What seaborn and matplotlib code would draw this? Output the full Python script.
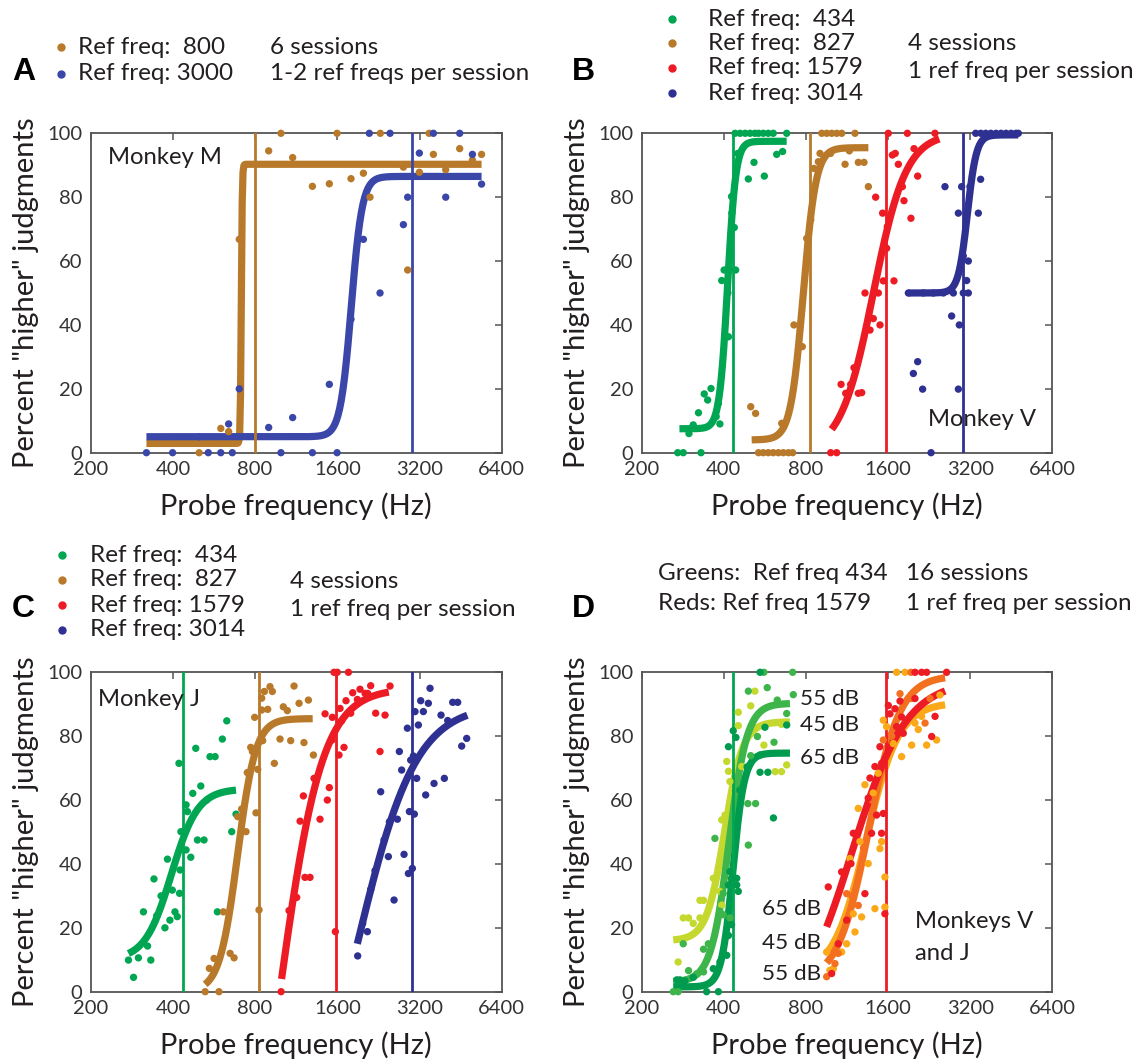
import numpy as np
import pandas as pd
import matplotlib
matplotlib.use("Agg")
import matplotlib.pyplot as plt
from matplotlib.lines import Line2D
from matplotlib.ticker import FixedLocator, FixedFormatter, NullLocator
import seaborn as sns

W, H = 1136, 1061

# ---------------- colours ----------------
GREEN = "#00A651"
BROWN = "#B87A2A"
RED = "#ED1C24"
NAVY = "#2E3192"
BLUE_A = "#3A47A8"
LGREEN = "#C4D82E"
MGREEN = "#3DB54A"
DGREEN = "#009B4E"
YORANGE = "#FBA919"
DORANGE = "#F37021"
TXT = "#231F20"
SPINE = "#555555"

# ---------------- axis ticks ----------------
xticks = [200, 400, 800, 1600, 3200, 6400]
xtick_labels = ["200", "400", "800", "1600", "3200", "6400"]
yticks = [0, 20, 40, 60, 80, 100]

# ---------------- Panel A (Monkey M) ----------------
A_800_f = [995, 1597, 2300, 3470, 897, 1098, 1297, 1496, 1796, 1994, 2108, 2794, 2896,
           3196, 3598, 3992, 4491, 5000, 5400, 700, 599, 640, 499]
A_800_y = [100, 100, 100, 100, 94.5, 92.4, 83.4, 84.2, 85.8, 87.5, 80, 89.4, 57.2,
           87.8, 93.4, 88.6, 95.2, 91.6, 93.4, 66.8, 7.6, 6.6, 0]
A_3000_f = [320, 399, 539, 599, 660, 995, 1297, 1597, 640, 499, 700, 897, 1098, 1496,
            1796, 1994, 2294, 2794, 2896, 2096, 2496, 3598, 4491, 3196, 3992, 5000, 5400]
A_3000_y = [0, 0, 0, 0, 0, 0, 0, 0, 9, 5, 20, 7.9, 11, 21.4,
            41.8, 66.8, 50, 71.4, 80, 100, 100, 100, 100, 93.8, 80, 93.4, 84.1]

# ---------------- Panel B (Monkey V) ----------------
B_434_f = [271, 284, 330, 298, 309, 323, 339, 349, 359, 375, 387, 382, 416, 393, 401, 414,
           442, 414, 428, 437, 427, 450, 492, 516, 563, 625, 657, 440, 459, 479, 499, 520,
           536, 558, 582, 607, 680]
B_434_y = [0, 0, 0, 6, 8.7, 12.5, 18.4, 16.5, 20.1, 11.3, 9, 15.4, 36.3, 53.9, 57.2, 57.2,
           57.2, 50.1, 75, 70.5, 80.2, 93.7, 85.7, 90.9, 86.6, 93.4, 94.3, 100, 100, 100, 100, 100,
           100, 100, 100, 100, 100]
B_827_f = [536, 558, 582, 607, 634, 661, 690, 715, 502, 523, 652, 723, 776, 805, 833, 847,
           856, 888, 901, 985, 1113, 1154, 1245, 1306, 1355, 914, 953, 994, 1037, 1082, 1210]
B_827_y = [0, 0, 0, 0, 0, 0, 0, 0, 14.4, 12.3, 9.2, 40, 33.2, 67.1, 72.9, 80.2,
           89, 91.1, 93.7, 93.7, 90.3, 94.5, 90.9, 90.9, 83.3, 100, 100, 100, 100, 100, 100]
B_1579_f = [986, 1037, 1076, 1119, 1167, 1245, 1281, 1200, 1317, 1374, 1413, 1495, 1474, 1537,
            1682, 1581, 1528, 1590, 1830, 1941, 1805, 1441, 1745, 1659, 1700, 2054, 1992,
            1603, 1883, 2377]
B_1579_y = [0, 0, 21.4, 18.6, 21.4, 18.6, 18.8, 26.6, 50, 38.4, 42, 40, 50, 53.8,
            53.8, 64, 75, 70.8, 78.9, 73.4, 83.3, 80, 90.3, 93.2, 93.7, 86.6, 95.2,
            100, 100, 100]
B_3014_f = [2300, 1981, 2054, 2142, 2896, 2736, 2920, 3106, 3019, 3150, 2896, 3428, 3194, 2978,
            2587, 3495, 1899, 2155, 2345, 2551, 2776, 3019, 3150,
            3352, 3500, 3650, 3810, 3980, 4150, 4330, 4520, 4710, 4805]
B_3014_y = [0, 24.8, 28.5, 19.9, 19.9, 42.8, 40, 53.9, 61.6, 60, 75, 75, 83.3, 83.3,
            83.3, 85.6, 50, 50, 50, 50, 50, 50, 50,
            100, 100, 100, 100, 100, 100, 100, 100, 100, 100]

# ---------------- Panel C (Monkey J) ----------------
C_434_f = [275, 287, 299, 332, 312, 323, 341, 349, 362, 374, 382, 390, 398, 407, 415, 423,
           421, 425, 428, 447, 452, 447, 465, 473, 485, 492, 520, 506, 532, 547, 571, 607,
           630, 657, 681, 582]
C_434_y = [9.9, 4.5, 10.6, 9.9, 25, 14.3, 35.3, 23.8, 30, 20, 41.5, 22.4, 31.8, 25, 23.5, 30.8,
           71.5, 38.1, 50.1, 58.5, 56.4, 44.4, 42.1, 62.1, 76.2, 47.5, 47.5, 64.4, 60, 73.6, 73.6, 79.1,
           84.8, 50.1, 55.6, 25]
C_827_f = [525, 590, 544, 566, 648, 670, 612, 691, 714, 741, 749, 771, 782, 806, 818, 827,
           797, 846, 853, 846, 865, 890, 907, 925, 941, 987, 1015, 1050, 1080, 1111, 1159,
           1208, 1254, 1308]
C_827_y = [0, 0, 7.3, 10.4, 12, 10.6, 25, 54.8, 57.2, 50.1, 68.6, 76.5, 75.2, 56, 69.6, 25.6,
           85.9, 88.2, 78.6, 91.9, 94, 88.4, 95.5, 94, 71.5, 79.1, 89.2, 88, 78.6, 95.7, 90.3,
           78, 91.3, 74.1]
C_1579_f = [996, 1065, 1136, 1218, 1271, 1169, 1202, 1383, 1315, 1471, 1496, 1443, 1574, 1535,
            1531, 1623, 1637, 1660, 1693, 1722, 1791, 1822, 1895, 1938, 2022, 2068, 2120, 2211,
            2294, 2393, 2496, 1556, 1600, 1757]
C_1579_y = [0, 25.4, 29.5, 35.8, 35.8, 53.4, 61.3, 54, 66.8, 60, 63.9, 87, 18.8, 85.9,
            78.8, 74.1, 88.7, 84.8, 76.5, 91.1, 87.2, 93.6, 91.5, 94.7, 93.4, 93.4, 95.8, 87.2,
            75.2, 86.6, 95.7, 100, 100, 100]
C_3014_f = [1900, 1982, 2062, 2120, 2199, 2307, 2373, 2461, 2482, 2582, 2656, 2700, 2753, 2809,
            2889, 2914, 2938, 2971, 3013, 3039, 3064, 3081, 3125, 3169, 3233, 3306, 3371, 3448,
            3497, 3617, 3837, 3946, 4059, 4234, 4416, 4567, 4764]
C_3014_y = [11.2, 21.4, 18.8, 32, 37.9, 62.6, 47.5, 42.3, 53.2, 28.7, 54, 75.2, 69.4, 43,
            82.5, 37, 56.4, 72.5, 38.6, 73.8, 55.6, 87.7, 66.8, 83.5, 91.1, 87.7, 61.6, 90.3,
            95, 65.2, 86.6, 66.8, 84.9, 90.6, 90.6, 76.9, 79.3]

# ---------------- Panel D (Monkeys V and J) ----------------
D_g45_f = [272, 284, 297, 309, 327, 327, 337, 366, 382, 387, 393, 393, 404, 410, 416, 421,
           452, 452, 465, 502, 520, 561, 617, 651, 651, 680]
D_g45_y = [9.3, 23.1, 23.1, 21.4, 23.1, 28.6, 28.6, 35.5, 38.7, 31.4, 27.1, 53.8, 55.3, 72.1, 69, 65.8,
           87.5, 83.3, 70.5, 89.5, 94.1, 77.2, 68.9, 68.9, 83.7, 71]
D_g55_f = [261, 272, 284, 297, 318, 337, 337, 351, 371, 387, 398, 398, 421, 490, 492, 492,
           502, 523, 531, 561, 577, 611, 628, 680, 715, 719]
D_g55_y = [0, 0, 15, 6.6, 5.6, 6.2, 13.3, 15, 48, 25.2, 24.1, 30.8, 23.1, 58.9, 45.9, 94.1,
           73.9, 58.9, 79.9, 100, 95.2, 78.1, 91.3, 87.1, 100, 93]
D_g65_f = [269, 276, 288, 309, 346, 366, 382, 387, 410, 416, 416, 421, 427, 427, 433, 443,
           446, 446, 452, 458, 487, 543, 543, 543, 566, 580, 608, 680, 416]
D_g65_y = [3.7, 3.7, 3.4, 4.5, 0, 7.2, 0, 9.3, 11.4, 17.6, 33.4, 37.6, 21, 35.5, 81.7, 79.6,
           35.5, 33.4, 31.4, 63.1, 70.4, 74.1, 100, 68.7, 82.8, 68.7, 54.4, 83.5, 76.7]
D_r65_f = [966, 994, 1051, 1081, 1128, 1170, 1193, 1226, 1316, 1353, 1373, 1392, 1432, 1452,
           1494, 1515, 1515, 1537, 1558, 1604, 1626, 1696, 1720, 1770, 1794, 1819, 2008, 2008,
           2124, 2216, 2312, 2379, 2622]
D_r65_y = [32.8, 5.7, 15, 37.5, 22.4, 40.1, 49.6, 49.6, 30.7, 60.6, 66.9, 49.6, 70.5, 55.3,
           76.7, 71.5, 49.6, 55.8, 24.4, 89.6, 87, 88.6, 83, 91, 86, 80.9, 91.8, 100,
           100, 100, 79.9, 86.2, 100]
D_o45_f = [953, 979, 1008, 1081, 1128, 1159, 1193, 1210, 1244, 1262, 1280, 1316, 1353, 1411,
           1432, 1472, 1494, 1515, 1537, 1558, 1558, 1580, 1672, 1720, 1794, 1846, 1952, 2008,
           2065, 2124, 2216, 2411, 2479]
D_o45_y = [12.4, 6.7, 7.2, 12.4, 15, 41.7, 24.4, 18.7, 57.4, 47, 23.4, 64.8, 40.1, 62.2,
           26, 68.4, 44.8, 47, 85, 35.9, 26.5, 83, 77.7, 100, 73.6, 100, 77.2, 84.1,
           82.1, 86.2, 77.2, 78.8, 92.9]
D_o55_f = [953, 1022, 1050, 1128, 1180, 1244, 1300, 1400, 1537, 1650, 1770, 1898, 1941, 1952,
           2186, 2280]
D_o55_y = [4.7, 8.8, 12, 30.7, 30, 27, 45, 60, 78.8, 80, 93.3, 91.8, 100, 91.8,
           84.1, 91.8]

# ---------------- sigmoid fit parameters: lo, hi, midpoint (Hz), width (octaves), fmin, fmax ----------------
A_fits = {"800": (2.9, 90.3, 712, 0.006, 320, 5400), "3000": (5, 86.5, 1800, 0.067, 320, 5400)}
B_fits = {"434": (7.5, 97.5, 413, 0.05, 275, 680), "827": (4, 95.5, 782, 0.077, 506, 1355),
          "1579": (0, 100, 1413, 0.2, 994, 2466), "3014": (50, 99.5, 3125, 0.055, 1899, 4805)}
C_fits = {"434": (10, 63.5, 395, 0.16, 275, 681), "827": (0, 85.5, 690, 0.11, 525, 1300),
          "1579": (-100, 95, 976, 0.263, 1000, 2470), "3014": (-60, 90, 1894, 0.357, 1894, 4790)}
D_fits = {"g45": (16, 84.5, 403, 0.11, 261, 699), "g55": (3, 90.3, 418, 0.11, 261, 699),
          "g65": (1.5, 74.7, 432, 0.07, 261, 699), "o45": (5, 90.5, 1330, 0.2, 953, 2590),
          "o55": (3, 99, 1360, 0.19, 953, 2590), "r65": (-10, 97.5, 1180, 0.33, 953, 2590)}

ref_A = [800, 3000]
ref_B = [434, 827, 1579, 3014]
ref_D = [434, 1579]


def fit_frame(fits):
    rows = []
    for name, (lo, hi, mu, s, f0, f1) in fits.items():
        f = np.geomspace(f0, f1, 400)
        y = lo + (hi - lo) / (1 + np.exp(-np.log2(f / mu) / s))
        rows.append(pd.DataFrame({"f": f, "y": y, "series": name}))
    return pd.concat(rows, ignore_index=True)


def pts_frame(d):
    return pd.concat([pd.DataFrame({"f": f, "y": y, "series": k}) for k, (f, y) in d.items()],
                     ignore_index=True)


sns.set_theme(style="white")
plt.rcParams["font.family"] = ["Lato", "DejaVu Sans"]
plt.rcParams["text.color"] = TXT

fig = plt.figure(figsize=(W / 100, H / 100), dpi=100)


def px(x, y):
    return x / W, 1 - y / H


def make_ax(x0, y0, x1, y1):
    ax = fig.add_axes([x0 / W, 1 - y1 / H, (x1 - x0) / W, (y1 - y0) / H])
    ax.set_xscale("log", base=2)
    ax.set_xlim(200, 6400)
    ax.set_ylim(0, 100)
    ax.xaxis.set_major_locator(FixedLocator(xticks))
    ax.xaxis.set_major_formatter(FixedFormatter(xtick_labels))
    ax.xaxis.set_minor_locator(NullLocator())
    ax.set_yticks(yticks)
    ax.set_yticklabels([str(v) for v in yticks])
    ax.tick_params(direction="in", top=True, right=True, length=5, width=1.1,
                   colors=SPINE, labelcolor="#333333", labelsize=14.5)
    ax.tick_params(axis="x", pad=6)
    ax.tick_params(axis="y", pad=6)
    for sp in ax.spines.values():
        sp.set_color(SPINE)
        sp.set_linewidth(1.3)
    ax.grid(False)
    return ax


def label_ax(ax, x0, y0, x1, y1):
    h = y1 - y0
    w = x1 - x0
    ax.set_xlabel("Probe frequency (Hz)", fontsize=21, color=TXT)
    ax.set_ylabel('Percent "higher" judgments', fontsize=21, color=TXT)
    ax.xaxis.label.set_verticalalignment("center")
    ax.yaxis.label.set_verticalalignment("center")
    ax.xaxis.set_label_coords(0.5, -53.0 / h)
    ax.yaxis.set_label_coords(-65.0 / w, 0.5)


def draw(ax, fits, pts, palette, refs, ref_colors):
    cf = fit_frame(fits)
    sns.lineplot(data=cf, x="f", y="y", hue="series", palette=palette, lw=5.2, legend=False,
                 sort=False, estimator=None, ax=ax, solid_capstyle="butt", solid_joinstyle="round",
                 zorder=2)
    for r, c in zip(refs, ref_colors):
        ax.axvline(r, color=c, lw=2.0, zorder=3)
    pf = pts_frame(pts)
    sns.scatterplot(data=pf, x="f", y="y", hue="series", palette=palette, s=28, linewidth=0,
                    legend=False, ax=ax, clip_on=False, zorder=4)
    ax.set_xlim(200, 6400)
    ax.set_ylim(0, 100)


boxes = {"A": (90.7, 133.3, 501.7, 452.7), "B": (641.7, 133.3, 1052.3, 452.7),
         "C": (90.7, 672.3, 501.7, 991.7), "D": (641.7, 672.3, 1052.3, 991.7)}

MFS = 17.2

# ---- Panel A ----
axA = make_ax(*boxes["A"])
draw(axA, A_fits, {"800": (A_800_f, A_800_y), "3000": (A_3000_f, A_3000_y)},
     {"800": BROWN, "3000": BLUE_A}, ref_A, [BROWN, BLUE_A])
label_ax(axA, *boxes["A"])
fig.text(*px(108, 158), "Monkey M", fontsize=MFS, va="center", ha="left", color=TXT)

# ---- Panel B ----
axB = make_ax(*boxes["B"])
draw(axB, B_fits, {"434": (B_434_f, B_434_y), "827": (B_827_f, B_827_y),
                   "1579": (B_1579_f, B_1579_y), "3014": (B_3014_f, B_3014_y)},
     {"434": GREEN, "827": BROWN, "1579": RED, "3014": NAVY}, ref_B, [GREEN, BROWN, RED, NAVY])
label_ax(axB, *boxes["B"])
fig.text(*px(928, 420), "Monkey V", fontsize=MFS, va="center", ha="left", color=TXT)

# ---- Panel C ----
axC = make_ax(*boxes["C"])
draw(axC, C_fits, {"434": (C_434_f, C_434_y), "827": (C_827_f, C_827_y),
                   "1579": (C_1579_f, C_1579_y), "3014": (C_3014_f, C_3014_y)},
     {"434": GREEN, "827": BROWN, "1579": RED, "3014": NAVY}, ref_B, [GREEN, BROWN, RED, NAVY])
label_ax(axC, *boxes["C"])
fig.text(*px(98, 700), "Monkey J", fontsize=MFS, va="center", ha="left", color=TXT)

# ---- Panel D ----
axD = make_ax(*boxes["D"])
draw(axD, D_fits, {"g45": (D_g45_f, D_g45_y), "g55": (D_g55_f, D_g55_y), "g65": (D_g65_f, D_g65_y),
                   "o45": (D_o45_f, D_o45_y), "o55": (D_o55_f, D_o55_y), "r65": (D_r65_f, D_r65_y)},
     {"g45": LGREEN, "g55": MGREEN, "g65": DGREEN, "o45": YORANGE, "o55": DORANGE, "r65": RED},
     ref_D, [GREEN, RED])
label_ax(axD, *boxes["D"])
DBFS = 16.2
for label, (x, y) in {"55 dB": (800, 699), "45 dB": (800, 725), "65 dB": (800, 758)}.items():
    fig.text(*px(x, y), label, fontsize=DBFS, va="center", ha="left", color=TXT)
for label, (x, y) in {"65 dB": (762, 909), "45 dB": (762, 943), "55 dB": (762, 974)}.items():
    fig.text(*px(x, y), label, fontsize=DBFS, va="center", ha="left", color=TXT)
fig.text(*px(915, 922), "Monkeys V", fontsize=MFS, va="center", ha="left", color=TXT)
fig.text(*px(915, 953), "and J", fontsize=MFS, va="center", ha="left", color=TXT)

# ---------------- panel letters and headers ----------------
LFS = 17.5
for letter, (x, y) in {"A": (12, 72), "B": (572, 72), "C": (12, 609), "D": (572, 609)}.items():
    fig.text(*px(x, y), letter, fontsize=23, fontweight="bold", va="center", ha="left",
             family=["Liberation Sans", "DejaVu Sans"], color="black")


def dot(x, y, c):
    fig.add_artist(Line2D([x / W], [1 - y / H], marker="o", ms=5, color=c, mec=c, lw=0,
                          transform=fig.transFigure))


# A header
dot(61, 47, BROWN)
dot(61, 74, BLUE_A)
fig.text(*px(78, 47), "Ref freq:  800", fontsize=LFS, va="center", ha="left")
fig.text(*px(78, 74), "Ref freq: 3000", fontsize=LFS, va="center", ha="left")
fig.text(*px(270, 47), "6 sessions", fontsize=LFS, va="center", ha="left")
fig.text(*px(270, 74), "1-2 ref freqs per session", fontsize=LFS, va="center", ha="left")

# B header
for (lab, c, y) in [("Ref freq:  434", GREEN, 19), ("Ref freq:  827", BROWN, 43),
                    ("Ref freq: 1579", RED, 68), ("Ref freq: 3014", NAVY, 93)]:
    dot(672, y, c)
    fig.text(*px(708, y), lab, fontsize=LFS, va="center", ha="left")
fig.text(*px(908, 43), "4 sessions", fontsize=LFS, va="center", ha="left")
fig.text(*px(908, 71), "1 ref freq per session", fontsize=LFS, va="center", ha="left")

# C header
for (lab, c, y) in [("Ref freq:  434", GREEN, 555), ("Ref freq:  827", BROWN, 580),
                    ("Ref freq: 1579", RED, 605), ("Ref freq: 3014", NAVY, 630)]:
    dot(62, y, c)
    fig.text(*px(90, y), lab, fontsize=LFS, va="center", ha="left")
fig.text(*px(290, 582), "4 sessions", fontsize=LFS, va="center", ha="left")
fig.text(*px(290, 609), "1 ref freq per session", fontsize=LFS, va="center", ha="left")

# D header
fig.text(*px(658, 573), "Greens:  Ref freq 434", fontsize=LFS, va="center", ha="left")
fig.text(*px(658, 604), "Reds: Ref freq 1579", fontsize=LFS, va="center", ha="left")
fig.text(*px(906, 573), "16 sessions", fontsize=LFS, va="center", ha="left")
fig.text(*px(906, 604), "1 ref freq per session", fontsize=LFS, va="center", ha="left")

fig.savefig("out.png", dpi=100, facecolor="white")
